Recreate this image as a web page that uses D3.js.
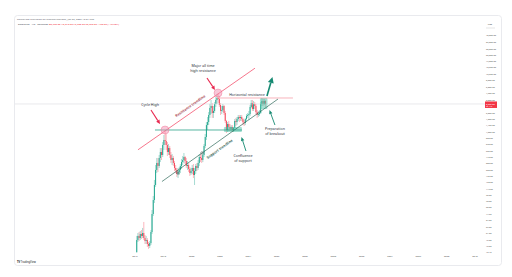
<!DOCTYPE html>
<html>
<head>
<meta charset="utf-8">
<script src="https://cdn.jsdelivr.net/npm/d3@7"></script>
<style>
  html, body { margin: 0; padding: 0; background: #fff; }
  svg { display: block; font-family: "Noto Sans", "DejaVu Sans", sans-serif; }
</style>
</head>
<body>
<svg id="chart" width="512" height="277"></svg>
<script>
// monthly candles, Feb 2016 onwards
const firstMonth = "2016-02-01";
const firstOpen = 10.1;
const closes = [16.1,18.9,17.4,20.4,18.9,21.2,17.4,15.5,16.1,13.8,12.8,14.3,
  22.0,44.5,76.8,138,248,326,290,396,500,445,657,799,
  768,657,500,584,445,366,396,326,268,248,212,229,
  248,290,338,366,411,352,290,301,258,220,238,268,
  204,238,290,268,326,411,396,366,445,632,898,1430,
  1610,2120,2790,3010,2290,2480,3260,3810,4110,3960,3130,2480,
  2580,3010,2290,1680,1180,1490,1330,1230,1330,1180,1280,1680,
  1610,1810,1960,1890,1960,1810,1610,1550,1810,2040,2120,2200,
  2900,3380,2680,3260,3010,2380,2120,2200,2290,3260,3660,3260,
  3660,3260];
const highs = [18.9,21.2,22.0,22.9,23.8,25.8,32.6,19.6,18.9,17.4,14.9,15.5,
  23.8,52.0,89.8,168,301,396,396,445,584,584,739,971,
  1180,1009,739,683,632,500,462,428,352,301,268,268,
  279,313,381,428,481,428,396,352,326,279,268,301,
  313,268,313,326,366,462,462,445,481,683,1009,1610,
  1960,2380,3260,3810,3380,3010,3520,4280,4810,5000,4450,3380,
  3010,3260,3130,2480,1740,1610,1680,1490,1430,1430,1330,1810,
  1890,1960,2120,2120,2120,2120,1890,1740,1890,2200,2290,2480,
  3130,3810,3810,3660,3520,3260,2580,2480,2580,3520,4110,3960,
  3960,3810];
const lows = [9.71,14.9,15.5,16.1,16.8,17.4,16.1,13.8,13.8,12.3,11.4,11.8,
  13.3,20.4,41.1,68.3,128,220,229,268,338,366,411,541,
  657,541,428,445,396,326,301,290,238,220,189,181,
  204,220,258,301,326,313,268,248,229,196,204,212,
  181,138,212,238,248,290,338,326,338,411,584,799,
  1180,1430,1890,2200,1890,1890,2290,2900,3260,3380,2900,2120,
  2200,2380,2120,1550,1050,1090,1140,1140,1140,1090,1090,1180,
  1380,1430,1680,1610,1680,1680,1430,1380,1430,1680,1890,1740,
  2040,2790,2480,2480,2680,2200,1890,1960,2040,2200,3010,3010,
  3130,2900];

const yearTicks = ["2016","2018","2020","2022","2024","2026","2028","2030","2032","2034","2036","2038","2040"];
const priceTicks = [48000,37000,28000,22000,17000,13500,10500,8200,6300,4900,3800,
  2300,1800,1420,1080,850,670,525,410,320,250,196,153,119,92,73,58,44.5,34.8,27,21,16.3,12.8,10.1];

// annotations [date, price]
const resistanceTrend = [["2016-03-18", 545], ["2024-06-20", 13170]];
const supportTrend = [["2017-11-26", 158], ["2026-02-04", 3956]];
const cycleHighLevel = [["2017-05-30", 1180], ["2023-07-20", 1180]];
const horizontalResistance = [["2021-10-15", 4114], ["2027-02-24", 4114]];
const highCircles = [["2018-02-13", 1180], ["2021-11-10", 5000]];
const touchDots = [["2019-01-13", 220], ["2020-09-23", 481]];
const zones = [[["2022-04-12", 1327], ["2023-07-20", 1091]], [["2024-10-27", 4114], ["2025-05-08", 2678]]];
const redArrows = [[["2017-02-16", 2576], ["2017-10-06", 1491]], [["2021-01-30", 8980], ["2021-08-24", 5620]]];
const greenArrows = [[["2023-11-01", 520], ["2023-07-08", 898]], [["2025-11-17", 1434], ["2025-06-29", 2576]]];
const breakoutArrow = [["2025-04-25", 4447], ["2025-09-14", 9335]];
const captions = [
  {line: resistanceTrend, at: ["2019-12-15", 2895], text: "Resistance trendline", color: "#9c1f37"},
  {line: supportTrend, at: ["2022-01-10", 540], text: "Support trendline", color: "#1a5244"}
];
const notes = [
  {at: ["2017-01-22", 3130], lines: ["Cycle High"]},
  {at: ["2020-10-19", 14350], lines: ["Major all time", "high resistance"]},
  {at: ["2023-11-27", 4680], lines: ["Horizontal resistance"]},
  {at: ["2023-08-16", 428], lines: ["Confluence", "of support"]},
  {at: ["2025-11-17", 1227], lines: ["Preparation", "of breakout"]}
];

const parse = d3.timeParse("%Y-%m-%d");
const svg = d3.select("#chart");

const x = d3.scaleTime().domain([new Date(2016, 0, 1), new Date(2040, 0, 1)]).range([135, 475]);
const y = d3.scaleLog().domain([5000, 10]).range([93, 93 + 59 * Math.log10(500)]);
const px = d => x(parse(d[0]));
const py = d => y(d[1]);

// panel
svg.append("rect").attr("x", 14.5).attr("y", 15.5).attr("width", 487).attr("height", 250)
  .attr("rx", 3).attr("fill", "#fff").attr("stroke", "#e3e5ea").attr("stroke-width", 0.8);

// header
svg.append("text").attr("x", 17).attr("y", 19.8).attr("font-size", 2.5).attr("fill", "#5d606b")
  .text("beincrypto published on TradingView.com, Jan 22, 2025 12:04 UTC");
const hdr = svg.append("text").attr("x", 18).attr("y", 25).attr("font-size", 2.5).attr("fill", "#434651");
hdr.append("tspan").text("Ethereum · 1M · Coinbase  ");
hdr.append("tspan").attr("fill", "#f23645")
  .text("O3,660.00 H3,810.00 L2,900.00 C3,260.00 −400.00 (−10.93%)");

// price axis
svg.append("text").attr("x", 490).attr("y", 25).attr("font-size", 2.2).attr("fill", "#555").attr("text-anchor", "middle").text("USD");
svg.append("line").attr("x1", 486).attr("x2", 495).attr("y1", 28).attr("y2", 28).attr("stroke", "#bbb").attr("stroke-width", 0.4);
svg.append("g").selectAll("text").data(priceTicks).join("text")
  .attr("x", 486).attr("y", d => y(d) + 0.8).attr("font-size", 2.2).attr("fill", "#555")
  .text(d => d3.format(",.2f")(d));

// time axis
svg.append("g").selectAll("text").data(yearTicks).join("text")
  .attr("x", d => x(new Date(+d, 0, 1))).attr("y", 256.5).attr("text-anchor", "middle")
  .attr("font-size", 2.4).attr("fill", "#555").text(d => d);

// logo
const logo = svg.append("text").attr("x", 17).attr("y", 263.3).attr("font-size", 2.6).attr("fill", "#131722");
logo.append("tspan").attr("font-weight", "bold").text("TV ");
logo.append("tspan").text("TradingView");

// candles
const start = parse(firstMonth);
const candles = closes.map((c, i) => ({
  date: d3.timeDay.offset(d3.timeMonth.offset(start, i), 14),
  open: i === 0 ? firstOpen : closes[i - 1],
  close: c, high: highs[i], low: lows[i]
}));
const up = "#1fa58d", down = "#f4485a";
const cg = svg.append("g");
cg.selectAll("line").data(candles).join("line")
  .attr("x1", d => x(d.date)).attr("x2", d => x(d.date))
  .attr("y1", d => y(d.high)).attr("y2", d => y(d.low))
  .attr("stroke", d => d.close >= d.open ? up : down).attr("stroke-width", 0.4);
cg.selectAll("rect").data(candles).join("rect")
  .attr("x", d => x(d.date) - 0.48).attr("width", 0.96)
  .attr("y", d => y(Math.max(d.open, d.close)))
  .attr("height", d => Math.max(0.4, Math.abs(y(d.open) - y(d.close))))
  .attr("fill", d => d.close >= d.open ? up : down);

// last price line and label
const last = candles[candles.length - 1];
svg.append("line").attr("x1", 15).attr("x2", 485).attr("y1", y(last.close)).attr("y2", y(last.close))
  .attr("stroke", "#d4d4d8").attr("stroke-width", 0.5);
svg.append("rect").attr("x", 485).attr("y", y(last.close) - 2.5).attr("width", 12).attr("height", 6.5)
  .attr("fill", "#f23645");
svg.append("text").attr("x", 486).attr("y", y(last.close) + 0.8).attr("font-size", 2.2).attr("fill", "#fff")
  .text(d3.format(",.2f")(last.close));
svg.append("text").attr("x", 486).attr("y", y(last.close) + 3.3).attr("font-size", 1.9).attr("fill", "#fff")
  .text("9d 11h");

// annotations
const ag = svg.append("g");
const seg = (pts, color, w) => ag.append("line")
  .attr("x1", px(pts[0])).attr("y1", py(pts[0])).attr("x2", px(pts[1])).attr("y2", py(pts[1]))
  .attr("stroke", color).attr("stroke-width", w);

zones.forEach(z => {
  ag.append("rect").attr("x", px(z[0])).attr("y", py(z[0]))
    .attr("width", px(z[1]) - px(z[0])).attr("height", py(z[1]) - py(z[0]))
    .attr("rx", 1).attr("fill", "#4cc2a6").attr("opacity", 0.5);
});

seg(resistanceTrend, "#f23b5a", 0.7);
seg(supportTrend, "#1f5e4d", 0.65);
seg(cycleHighLevel, "#1f9c82", 0.75);
seg(horizontalResistance, "#f3909e", 0.7);

ag.selectAll(".hc").data(highCircles).join("circle").attr("class", "hc")
  .attr("cx", px).attr("cy", py).attr("r", 4)
  .attr("fill", "#f48fb1").attr("fill-opacity", 0.5).attr("stroke", "#f06a8e").attr("stroke-width", 0.4);
ag.selectAll(".td").data(touchDots).join("circle").attr("class", "td")
  .attr("cx", px).attr("cy", py).attr("r", 1.3)
  .attr("fill", "none").attr("stroke", "#444").attr("stroke-width", 0.45);

function arrow(a, b, color, w, hl, hw) {
  const x0 = px(a), y0 = py(a), x1 = px(b), y1 = py(b);
  const ang = Math.atan2(y1 - y0, x1 - x0);
  const bx = x1 - hl * Math.cos(ang), by = y1 - hl * Math.sin(ang);
  ag.append("line").attr("x1", x0).attr("y1", y0).attr("x2", bx).attr("y2", by)
    .attr("stroke", color).attr("stroke-width", w);
  const s = Math.sin(ang), c = Math.cos(ang);
  ag.append("polygon").attr("fill", color)
    .attr("points", [[x1, y1], [bx + hw * s, by - hw * c], [bx - hw * s, by + hw * c]].join(" "));
}
redArrows.forEach(a => arrow(a[0], a[1], "#e8284f", 1.1, 4, 1.9));
greenArrows.forEach(a => arrow(a[0], a[1], "#168a72", 0.9, 4, 1.7));
arrow(breakoutArrow[0], breakoutArrow[1], "#168a72", 1.6, 6, 3);

// trendline captions, rotated along their line
captions.forEach(c => {
  const a = c.line[0], b = c.line[1];
  const ang = Math.atan2(py(b) - py(a), px(b) - px(a)) * 180 / Math.PI;
  ag.append("text").attr("transform", `translate(${px(c.at)},${py(c.at)}) rotate(${ang})`)
    .attr("text-anchor", "middle").attr("font-size", 3.6).attr("font-weight", 600)
    .attr("fill", c.color).text(c.text);
});

// notes
notes.forEach(n => {
  const t = ag.append("text").attr("x", px(n.at)).attr("y", py(n.at) + 1.2)
    .attr("text-anchor", "middle").attr("font-size", 3.6).attr("fill", "#2a2e39");
  n.lines.forEach((l, i) => t.append("tspan").attr("x", px(n.at)).attr("dy", i ? 4.4 : 0).text(l));
});
</script>
</body>
</html>
